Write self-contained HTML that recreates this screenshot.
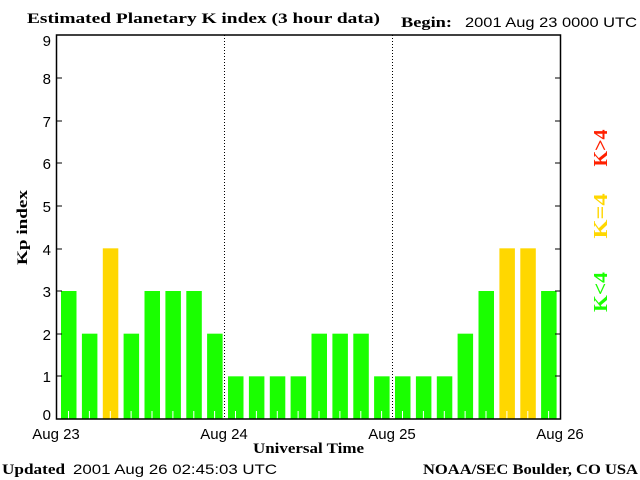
<!DOCTYPE html>
<html><head><style>
html,body{margin:0;padding:0;background:#fff;}
svg{display:block;}
.s{font-family:"Liberation Sans",sans-serif;font-size:14px;}
.b{font-family:"Liberation Serif",serif;font-weight:bold;font-size:15px;}
</style></head><body>
<svg width="640" height="480" viewBox="0 0 640 480" xmlns="http://www.w3.org/2000/svg">
<rect width="640" height="480" fill="#fff"/>
<text x="27" y="23" class="b" textLength="353" lengthAdjust="spacingAndGlyphs">Estimated Planetary K index (3 hour data)</text>
<text x="401" y="27" class="b" textLength="51" lengthAdjust="spacingAndGlyphs">Begin:</text>
<text x="465" y="27" class="s" textLength="172" lengthAdjust="spacingAndGlyphs">2001 Aug 23 0000 UTC</text>
<g>
<rect x="61" y="291" width="15.5" height="128" fill="#1aff00"/>
<rect x="81.9" y="333.67" width="15.5" height="85.33" fill="#1aff00"/>
<rect x="102.8" y="248.33" width="15.5" height="170.67" fill="#ffd700"/>
<rect x="123.6" y="333.67" width="15.5" height="85.33" fill="#1aff00"/>
<rect x="144.5" y="291" width="15.5" height="128" fill="#1aff00"/>
<rect x="165.4" y="291" width="15.5" height="128" fill="#1aff00"/>
<rect x="186.3" y="291" width="15.5" height="128" fill="#1aff00"/>
<rect x="207.1" y="333.67" width="15.5" height="85.33" fill="#1aff00"/>
<rect x="228" y="376.33" width="15.5" height="42.67" fill="#1aff00"/>
<rect x="248.9" y="376.33" width="15.5" height="42.67" fill="#1aff00"/>
<rect x="269.8" y="376.33" width="15.5" height="42.67" fill="#1aff00"/>
<rect x="290.6" y="376.33" width="15.5" height="42.67" fill="#1aff00"/>
<rect x="311.5" y="333.67" width="15.5" height="85.33" fill="#1aff00"/>
<rect x="332.4" y="333.67" width="15.5" height="85.33" fill="#1aff00"/>
<rect x="353.3" y="333.67" width="15.5" height="85.33" fill="#1aff00"/>
<rect x="374.1" y="376.33" width="15.5" height="42.67" fill="#1aff00"/>
<rect x="395" y="376.33" width="15.5" height="42.67" fill="#1aff00"/>
<rect x="415.9" y="376.33" width="15.5" height="42.67" fill="#1aff00"/>
<rect x="436.8" y="376.33" width="15.5" height="42.67" fill="#1aff00"/>
<rect x="457.6" y="333.67" width="15.5" height="85.33" fill="#1aff00"/>
<rect x="478.5" y="291" width="15.5" height="128" fill="#1aff00"/>
<rect x="499.4" y="248.33" width="15.5" height="170.67" fill="#ffd700"/>
<rect x="520.3" y="248.33" width="15.5" height="170.67" fill="#ffd700"/>
<rect x="541.1" y="291" width="15.5" height="128" fill="#1aff00"/>
</g>
<g stroke="#fff" stroke-width="1">
<line x1="68.5" y1="411" x2="68.5" y2="419"/><line x1="89.4" y1="411" x2="89.4" y2="419"/><line x1="110.3" y1="411" x2="110.3" y2="419"/><line x1="131.1" y1="411" x2="131.1" y2="419"/><line x1="152" y1="411" x2="152" y2="419"/><line x1="172.9" y1="411" x2="172.9" y2="419"/><line x1="193.8" y1="411" x2="193.8" y2="419"/><line x1="214.6" y1="411" x2="214.6" y2="419"/><line x1="235.5" y1="411" x2="235.5" y2="419"/><line x1="256.4" y1="411" x2="256.4" y2="419"/><line x1="277.3" y1="411" x2="277.3" y2="419"/><line x1="298.1" y1="411" x2="298.1" y2="419"/><line x1="319" y1="411" x2="319" y2="419"/><line x1="339.9" y1="411" x2="339.9" y2="419"/><line x1="360.8" y1="411" x2="360.8" y2="419"/><line x1="381.6" y1="411" x2="381.6" y2="419"/><line x1="402.5" y1="411" x2="402.5" y2="419"/><line x1="423.4" y1="411" x2="423.4" y2="419"/><line x1="444.3" y1="411" x2="444.3" y2="419"/><line x1="465.1" y1="411" x2="465.1" y2="419"/><line x1="486" y1="411" x2="486" y2="419"/><line x1="506.9" y1="411" x2="506.9" y2="419"/><line x1="527.8" y1="411" x2="527.8" y2="419"/><line x1="548.6" y1="411" x2="548.6" y2="419"/>
</g>
<line x1="224.5" y1="35" x2="224.5" y2="419" stroke="#000" stroke-dasharray="1,2"/>
<line x1="392.5" y1="35" x2="392.5" y2="419" stroke="#000" stroke-dasharray="1,2"/>
<rect x="56.5" y="35" width="504" height="384" fill="none" stroke="#000" stroke-width="1.5"/>
<g stroke="#000" stroke-width="1">
<line x1="56" y1="78" x2="62" y2="78"/><line x1="56" y1="121" x2="62" y2="121"/><line x1="56" y1="163" x2="62" y2="163"/><line x1="56" y1="206" x2="62" y2="206"/><line x1="56" y1="249" x2="62" y2="249"/><line x1="56" y1="291" x2="62" y2="291"/><line x1="56" y1="334" x2="62" y2="334"/><line x1="56" y1="376" x2="62" y2="376"/>
<line x1="555" y1="78" x2="561" y2="78"/><line x1="555" y1="121" x2="561" y2="121"/><line x1="555" y1="163" x2="561" y2="163"/><line x1="555" y1="206" x2="561" y2="206"/><line x1="555" y1="249" x2="561" y2="249"/><line x1="555" y1="291" x2="561" y2="291"/><line x1="555" y1="334" x2="561" y2="334"/><line x1="555" y1="376" x2="561" y2="376"/>
</g>
<g class="s" text-anchor="end" style="font-size:15px">
<text x="51" y="46">9</text><text x="51" y="84">8</text><text x="51" y="127">7</text><text x="51" y="169">6</text><text x="51" y="212">5</text><text x="51" y="255">4</text><text x="51" y="297">3</text><text x="51" y="340">2</text><text x="51" y="382">1</text><text x="51" y="420">0</text>
</g>
<g class="s" text-anchor="middle" style="font-size:15px">
<text x="56" y="439">Aug 23</text><text x="224" y="439">Aug 24</text><text x="392" y="439">Aug 25</text><text x="560" y="439">Aug 26</text>
</g>
<text x="253" y="453" class="b" textLength="111" lengthAdjust="spacingAndGlyphs">Universal Time</text>
<text transform="translate(27,265) rotate(-90)" class="b" textLength="75" lengthAdjust="spacingAndGlyphs">Kp index</text>
<g style="font-family:'Liberation Serif',serif;font-weight:bold;font-size:20px" text-anchor="middle">
<text transform="translate(607,148) rotate(-90)" fill="#ff2000" textLength="37" lengthAdjust="spacingAndGlyphs">K&gt;4</text>
<text transform="translate(607,216) rotate(-90)" fill="#ffd700" textLength="45" lengthAdjust="spacingAndGlyphs">K=4</text>
<text transform="translate(607,292) rotate(-90)" fill="#1aff00" textLength="40" lengthAdjust="spacingAndGlyphs">K&lt;4</text>
</g>
<text x="2" y="474" class="b" textLength="63" lengthAdjust="spacingAndGlyphs">Updated</text>
<text x="73" y="474" class="s" textLength="204" lengthAdjust="spacingAndGlyphs">2001 Aug 26 02:45:03 UTC</text>
<text x="423" y="474" class="b" textLength="215" lengthAdjust="spacingAndGlyphs">NOAA/SEC Boulder, CO USA</text>
</svg>
</body></html>
